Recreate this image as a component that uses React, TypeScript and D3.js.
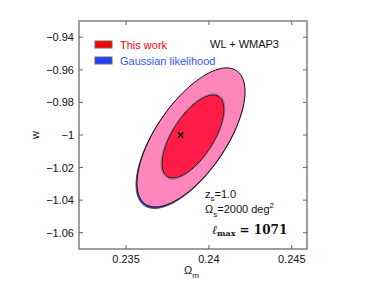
import * as d3 from 'd3'

const xTicks = [0.235, 0.24, 0.245]
const yTicks = [-0.94, -0.96, -0.98, -1, -1.02, -1.04, -1.06]
const xTickLabels = ['0.235', '0.24', '0.245']
const yTickLabels = ['\u22120.94', '\u22120.96', '\u22120.98', '\u22121', '\u22121.02', '\u22121.04', '\u22121.06']

// fiducial point
const fiducial = [0.2383, -1.0]

// contours: centre, half-extents in Omega_m and w, correlation
const gaussContours = [
  { name: '2sigma', cx: 0.23888, cy: -1.0022, ax: 0.00328, ay: 0.0429, rho: 0.66, fill: '#2a3cff' },
  { name: '1sigma', cx: 0.23902, cy: -1.0014, ax: 0.00189, ay: 0.0257, rho: 0.65, fill: '#2a3cff' },
]
const workContours = [
  { name: '2sigma', cx: 0.23892, cy: -1.0015, ax: 0.00326, ay: 0.0427, rho: 0.66, fill: '#ff86bd' },
  { name: '1sigma', cx: 0.23904, cy: -1.0009, ax: 0.00187, ay: 0.0255, rho: 0.65, fill: '#ff1c47' },
]

const legend = [
  { label: 'This work', swatch: '#ff0000', color: '#ff0000' },
  { label: 'Gaussian likelihood', swatch: '#2040ff', color: '#3355ff' },
]

const W = 374
const H = 281
const margin = { left: 79, right: 67, top: 21, bottom: 32 }

export default function App() {
  const x = d3.scaleLinear().domain([0.23216, 0.24592]).range([margin.left, W - margin.right])
  const y = d3.scaleLinear().domain([-1.07, -0.93]).range([H - margin.bottom, margin.top])

  const angles = d3.range(0, 361, 3).map(d => (d * Math.PI) / 180)
  const ellipse = (c: typeof workContours[0]) =>
    d3.line<number>()
      .x(t => x(c.cx + c.ax * Math.cos(t)))
      .y(t => y(c.cy + c.ay * (c.rho * Math.cos(t) + Math.sqrt(1 - c.rho * c.rho) * Math.sin(t))))
      .curve(d3.curveCardinalClosed)(angles) || ''

  const font = '"Liberation Sans", Arial, sans-serif'
  const [x0, x1] = x.range()
  const [y0, y1] = y.range()
  const tl = 4

  return (
    <div style={{ position: 'fixed', left: 0, top: 0 }}>
      <svg width={W} height={H} style={{ display: 'block', background: '#fff' }} fontFamily={font}>
        {gaussContours.map(c => (
          <path key={'g' + c.name} d={ellipse(c)} fill={c.fill} stroke="#555" strokeWidth={1} />
        ))}
        {workContours.map(c => (
          <path key={'w' + c.name} d={ellipse(c)} fill={c.fill} stroke="#111" strokeWidth={1} />
        ))}
        {workContours.slice(1).map(c => (
          <path key={'i' + c.name} d={ellipse({ ...c, ax: c.ax * 1.03, ay: c.ay * 1.03 })} fill="none" stroke="#777" strokeWidth={0.8} />
        ))}

        {/* fiducial cross */}
        <g stroke="#000" strokeWidth={1.6}>
          <line x1={x(fiducial[0]) - 2.5} x2={x(fiducial[0]) + 2.5} y1={y(fiducial[1]) - 2.5} y2={y(fiducial[1]) + 2.5} />
          <line x1={x(fiducial[0]) - 2.5} x2={x(fiducial[0]) + 2.5} y1={y(fiducial[1]) + 2.5} y2={y(fiducial[1]) - 2.5} />
        </g>

        {/* frame */}
        <rect x={x0} y={y1} width={x1 - x0} height={y0 - y1} fill="none" stroke="#888" strokeWidth={1.6} />
        {xTicks.map(t => (
          <g key={'xt' + t} stroke="#666" strokeWidth={1}>
            <line x1={x(t)} x2={x(t)} y1={y0} y2={y0 - tl} />
            <line x1={x(t)} x2={x(t)} y1={y1} y2={y1 + tl} />
          </g>
        ))}
        {yTicks.map(t => (
          <g key={'yt' + t} stroke="#666" strokeWidth={1}>
            <line x1={x0} x2={x0 + tl} y1={y(t)} y2={y(t)} />
            <line x1={x1} x2={x1 - tl} y1={y(t)} y2={y(t)} />
          </g>
        ))}
        {xTicks.map((t, i) => (
          <text key={'xl' + t} x={x(t)} y={y0 + 14} textAnchor="middle" fontSize={11} fill="#111">{xTickLabels[i]}</text>
        ))}
        {yTicks.map((t, i) => (
          <text key={'yl' + t} x={x0 - 5} y={y(t) + 4} textAnchor="end" fontSize={11} fill="#111">{yTickLabels[i]}</text>
        ))}

        {/* axis labels */}
        <text transform={`translate(${x0 - 40},${y(-1)}) rotate(-90)`} textAnchor="middle" fontSize={11} fill="#111">w</text>
        <text x={184} y={y0 + 25} fontSize={11} fill="#111">
          Ω<tspan fontSize={8} dy={4}>m</tspan>
        </text>

        {/* legend */}
        {legend.map((l, i) => (
          <g key={l.label} transform={`translate(95,${41 + i * 16})`}>
            <rect x={0} y={0} width={17} height={7} fill={l.swatch} stroke="#666" strokeWidth={1} />
            <text x={25} y={7.5} fontSize={11} fill={l.color}>{l.label}</text>
          </g>
        ))}
        <text x={210} y={48} fontSize={11} fill="#111">WL + WMAP3</text>

        {/* survey annotations */}
        <text x={205} y={198} fontSize={11} fill="#111">
          z<tspan fontSize={8} dy={3}>s</tspan><tspan dy={-3}>=1.0</tspan>
        </text>
        <text x={205} y={213} fontSize={11} fill="#111">
          Ω<tspan fontSize={8} dy={4}>s</tspan><tspan dy={-4}>=2000 deg</tspan><tspan fontSize={8} dy={-5}>2</tspan>
        </text>
        <text x={212} y={234} fontSize={12} fill="#111" fontFamily='"DejaVu Serif", serif' fontWeight="bold">
          <tspan fontStyle="italic" fontWeight="normal">ℓ</tspan><tspan fontSize={8} dy={2}>max</tspan><tspan dy={-2}> = 1071</tspan>
        </text>
      </svg>
    </div>
  )
}
